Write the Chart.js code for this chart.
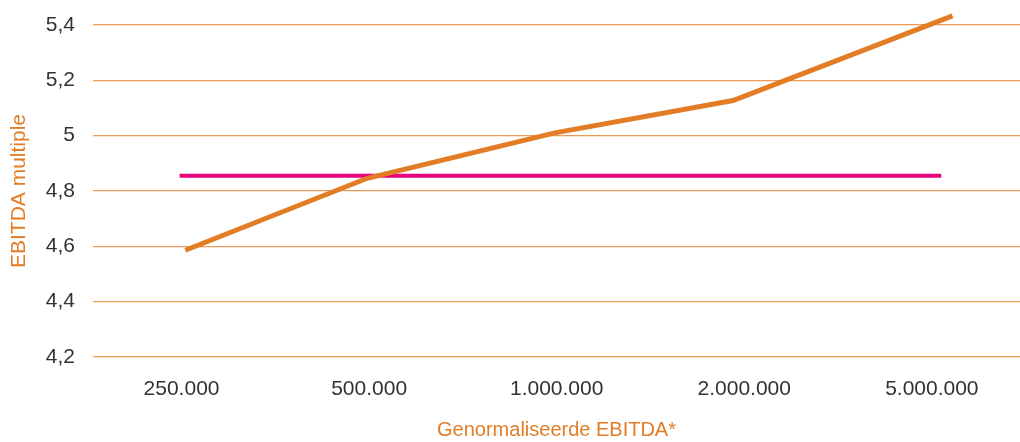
<!DOCTYPE html>
<html>
<head>
<meta charset="utf-8">
<script src="https://cdn.jsdelivr.net/npm/chart.js@4/dist/chart.umd.min.js"></script>
<style>
  html, body { margin: 0; padding: 0; background: #fff; }
  #wrap { width: 1020px; height: 442px; position: relative; }
</style>
</head>
<body>
<div id="wrap"><canvas id="c"></canvas></div>
<script>
// EBITDA size classes (x axis tick labels)
const categories = ['250.000', '500.000', '1.000.000', '2.000.000', '5.000.000'];
// Position of each measured point along the size axis (category index)
const multiplePositions = [0.02, 0.99, 1.99, 2.94, 4.11];
// EBITDA multiple per size class
const multipleValues = [4.586, 4.846, 5.01, 5.127, 5.433];
// Average multiple, drawn as a flat reference line
const averageValue = 4.855;
const averageSpan = [-0.01, 4.05];

const orange = '#e27d26';
const magenta = '#e6007e';
const gridColor = '#eb9a58';
const textColor = '#333333';
const fontFamily = "'Liberation Sans', Arial, Helvetica, sans-serif";

new Chart(document.getElementById('c'), {
  type: 'line',
  data: {
    datasets: [
      {
        label: 'EBITDA multiple',
        data: multiplePositions.map((x, i) => ({ x, y: multipleValues[i] })),
        borderColor: orange,
        borderWidth: 5,
        pointRadius: 0,
        tension: 0,
        clip: false,
        borderCapStyle: 'butt'
      },
      {
        label: 'Gemiddelde',
        data: averageSpan.map(x => ({ x, y: averageValue })),
        borderColor: magenta,
        borderWidth: 4,
        pointRadius: 0,
        tension: 0,
        clip: false,
        borderCapStyle: 'butt'
      }
    ]
  },
  options: {
    responsive: true,
    maintainAspectRatio: false,
    animation: false,
    layout: { padding: { top: 25, right: 0, left: 0, bottom: 0 } },
    plugins: { legend: { display: false }, tooltip: { enabled: false } },
    scales: {
      x: {
        type: 'linear',
        min: -0.472,
        max: 4.47,
        border: { display: false },
        grid: { display: false, drawTicks: false },
        afterBuildTicks: (scale) => {
          scale.ticks = categories.map((_, i) => ({ value: i }));
        },
        ticks: {
          autoSkip: false,
          maxRotation: 0,
          padding: 20,
          color: textColor,
          font: { family: fontFamily, size: 21 },
          callback: (v) => categories[Math.round(v)] ?? ''
        },
        title: {
          display: true,
          text: 'Genormaliseerde EBITDA*',
          color: orange,
          font: { family: fontFamily, size: 20 },
          padding: { top: 10, bottom: 0 }
        },
        afterFit: (scale) => {
          scale.height = 85;
          scale.paddingLeft = 0;
          scale.paddingRight = 0;
        }
      },
      y: {
        min: 4.2,
        max: 5.4,
        border: { display: false },
        grid: { color: gridColor, lineWidth: 1.2, drawTicks: false },
        afterBuildTicks: (scale) => {
          const t = [];
          for (let v = 4.2; v <= 5.4001; v += 0.2) t.push({ value: Math.round(v * 10) / 10 });
          scale.ticks = t;
        },
        ticks: {
          padding: 18,
          color: textColor,
          font: { family: fontFamily, size: 21 },
          callback: (v) => (Number.isInteger(v) ? String(v) : v.toFixed(1).replace('.', ','))
        },
        title: {
          display: true,
          text: 'EBITDA multiple',
          color: orange,
          font: { family: fontFamily, size: 21 },
          padding: { top: 7, bottom: 0 }
        },
        afterFit: (scale) => {
          scale.width = 93;
          scale.paddingTop = 0;
          scale.paddingBottom = 0;
        }
      }
    }
  }
});
</script>
</body>
</html>
